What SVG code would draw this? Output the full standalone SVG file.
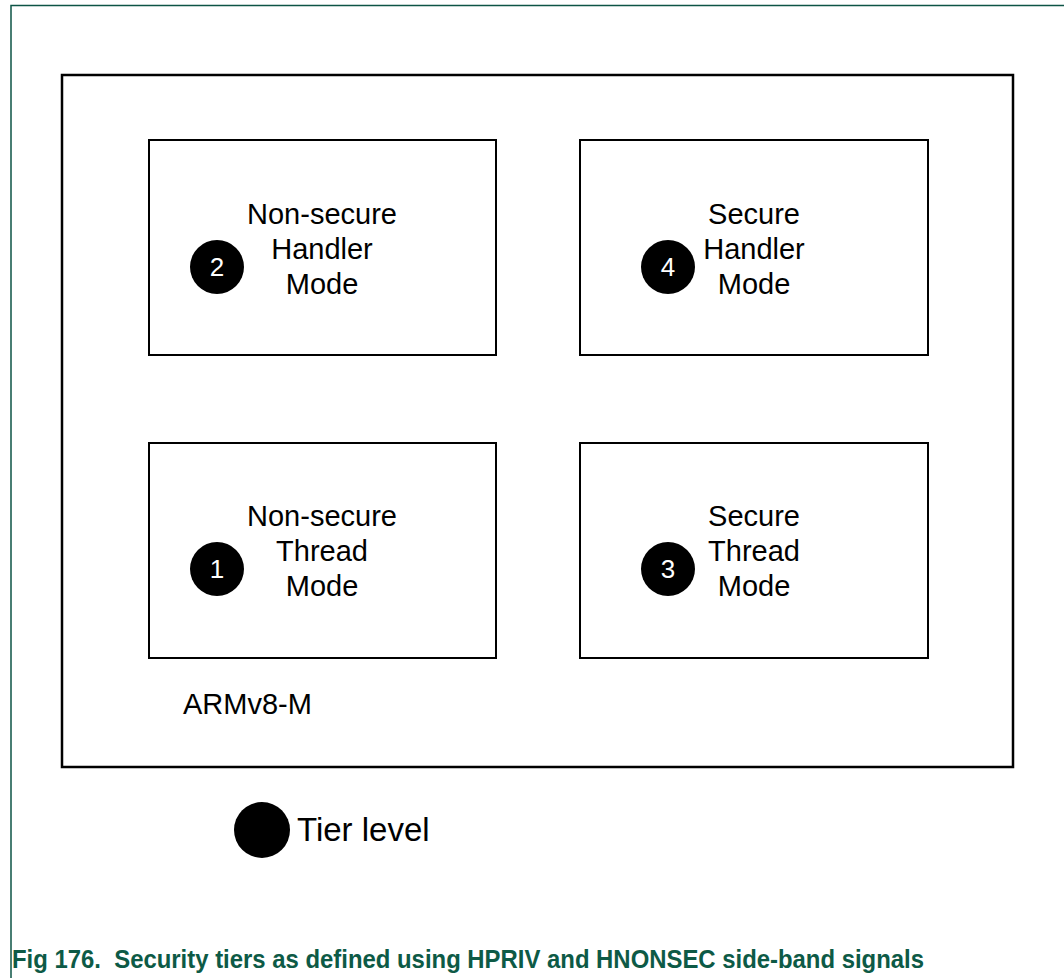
<svg xmlns="http://www.w3.org/2000/svg" width="1064" height="978" viewBox="0 0 1064 978">
<style>
.frame{stroke:#0d5446;stroke-width:1.5;fill:none}
.box{fill:#fff;stroke:#000;stroke-width:2}
.outer{fill:#fff;stroke:#000;stroke-width:2.5}
.lbl{font-family:"Liberation Sans",Arial,sans-serif;font-size:29px;fill:#000;text-anchor:middle}
.num{font-family:"Liberation Sans",Arial,sans-serif;font-size:26px;fill:#fff;text-anchor:middle}
.cap{font-family:"Liberation Sans",Arial,sans-serif;font-size:26px;font-weight:bold;fill:#0d5a46}
</style>
<rect width="1064" height="978" fill="#fff"/>
<path class="frame" d="M11,978 V5.5 H1064"/>
<g id="armv8m">
<rect class="outer" x="62" y="75" width="951" height="692"/>
<text x="183" y="714" font-family="Liberation Sans, Arial, sans-serif" font-size="29">ARMv8-M</text>
</g>
<g id="ns-handler">
<rect class="box" x="149" y="140" width="347" height="215"/>
<circle cx="217" cy="267" r="27"/>
<text class="num" x="217" y="276">2</text>
<text class="lbl" x="322" y="224">Non-secure</text>
<text class="lbl" x="322" y="259">Handler</text>
<text class="lbl" x="322" y="294">Mode</text>
</g>
<g id="s-handler">
<rect class="box" x="580" y="140" width="348" height="215"/>
<circle cx="668" cy="267" r="27"/>
<text class="num" x="668" y="276">4</text>
<text class="lbl" x="754" y="224">Secure</text>
<text class="lbl" x="754" y="259">Handler</text>
<text class="lbl" x="754" y="294">Mode</text>
</g>
<g id="ns-thread">
<rect class="box" x="149" y="443" width="347" height="215"/>
<circle cx="217" cy="569" r="27"/>
<text class="num" x="217" y="578">1</text>
<text class="lbl" x="322" y="526">Non-secure</text>
<text class="lbl" x="322" y="561">Thread</text>
<text class="lbl" x="322" y="596">Mode</text>
</g>
<g id="s-thread">
<rect class="box" x="580" y="443" width="348" height="215"/>
<circle cx="668" cy="569" r="27"/>
<text class="num" x="668" y="578">3</text>
<text class="lbl" x="754" y="526">Secure</text>
<text class="lbl" x="754" y="561">Thread</text>
<text class="lbl" x="754" y="596">Mode</text>
</g>
<g id="legend">
<circle cx="262" cy="830" r="28"/>
<text x="297" y="841" font-family="Liberation Sans, Arial, sans-serif" font-size="33">Tier level</text>
</g>
<g id="connectors"></g>
<text class="cap" x="12" y="968" textLength="912" lengthAdjust="spacingAndGlyphs">Fig 176.&#160; Security tiers as defined using HPRIV and HNONSEC side-band signals</text>
</svg>
